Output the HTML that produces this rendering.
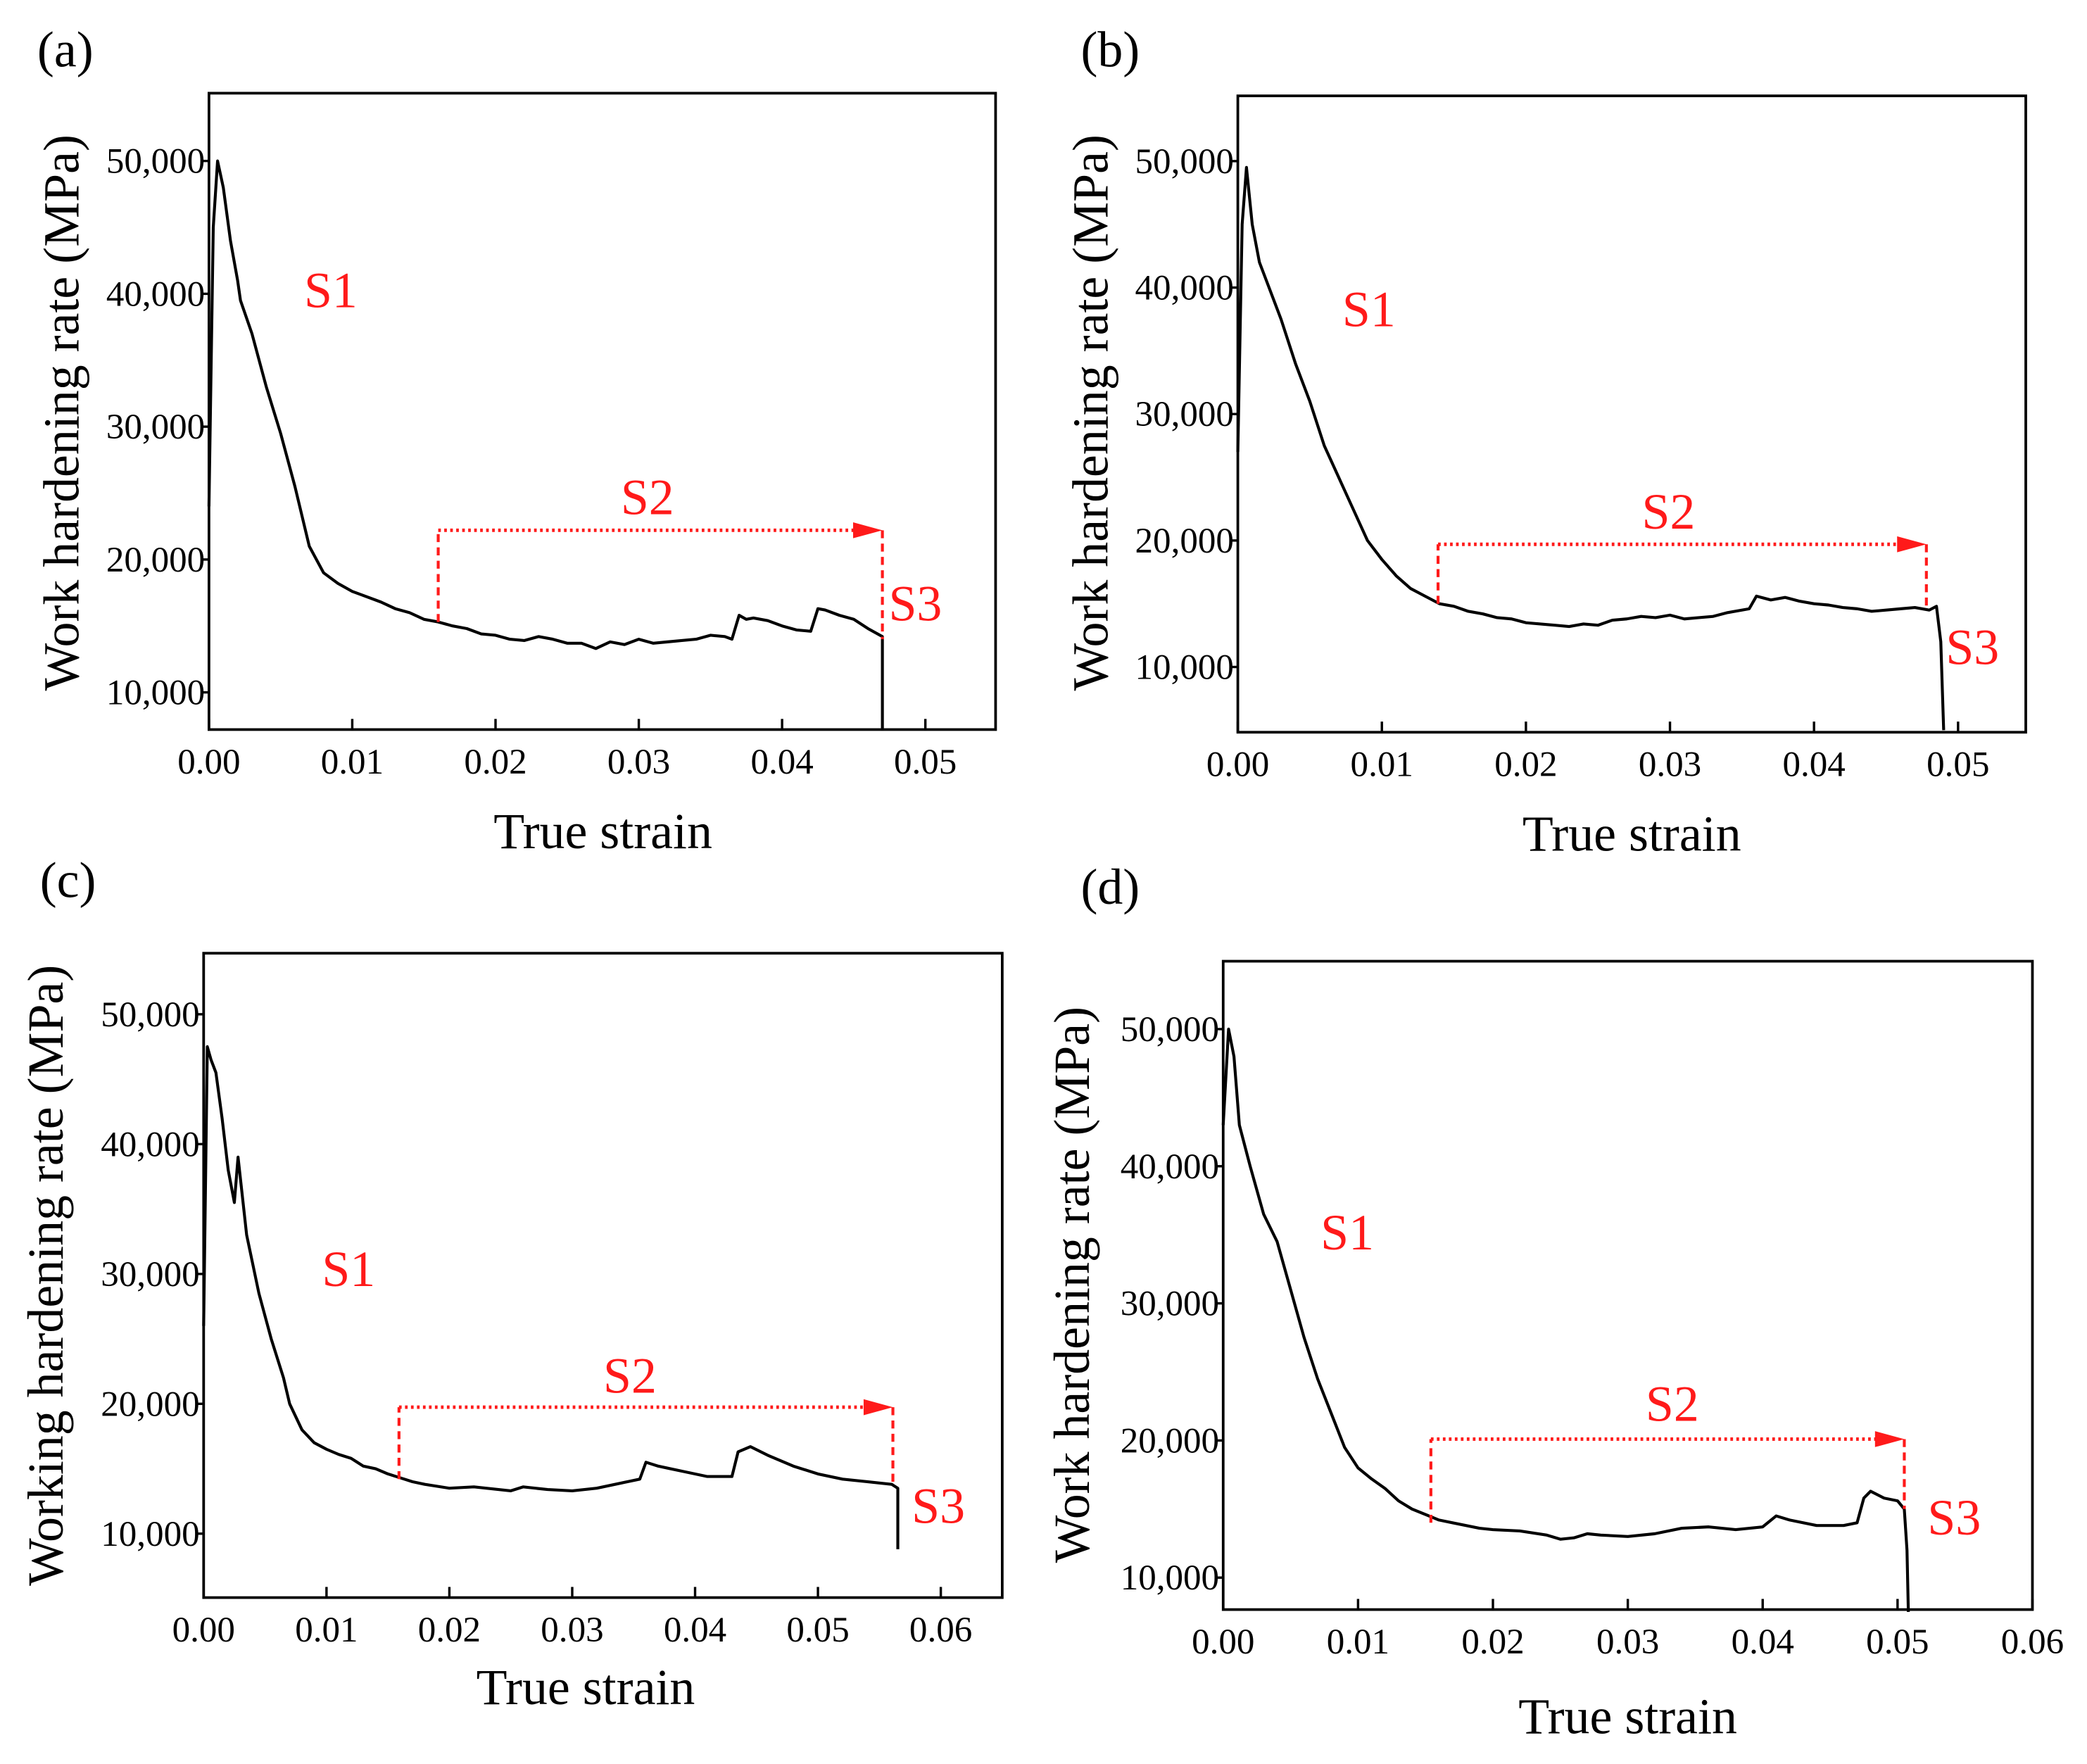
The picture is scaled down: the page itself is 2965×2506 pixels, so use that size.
<!DOCTYPE html>
<html><head><meta charset="utf-8"><style>
html,body{margin:0;padding:0;background:#fff;}
svg{display:block;}
</style></head><body>
<svg id="fig" width="2965" height="2506" viewBox="0 0 1568 1325" preserveAspectRatio="none" xmlns="http://www.w3.org/2000/svg" font-family="'Liberation Serif','Times New Roman','DejaVu Serif',serif">
</svg>
<script>
// ---- data (true strain, work hardening rate MPa) ----
const aX=[0,0.0003,0.0006,0.0010,0.0015,0.0020,0.0022,0.0030,0.0040,0.0050,0.0060,0.0070,0.0080,0.0090,0.0100,0.0110,0.0120,0.0130,0.0140,0.0150,0.0160,0.0170,0.0180,0.0190,0.0200,0.0210,0.0220,0.0230,0.0240,0.0250,0.0260,0.0270,0.0280,0.0290,0.0300,0.0310,0.0320,0.0330,0.0340,0.0350,0.0360,0.0365,0.0370,0.0375,0.0380,0.0390,0.0400,0.0410,0.0420,0.0425,0.0430,0.0440,0.0450,0.0460,0.0470,0.0470];
const aY=[24000,45000,50000,48000,44000,41000,39500,37000,33000,29500,25500,21000,19000,18200,17600,17200,16800,16300,16000,15500,15300,15000,14800,14400,14300,14000,13900,14200,14000,13700,13700,13300,13800,13600,14000,13700,13800,13900,14000,14300,14200,14000,15800,15500,15600,15400,15000,14700,14600,16300,16200,15800,15500,14800,14200,7200];
const bX=[0,0.0003,0.0006,0.0010,0.0015,0.0020,0.0030,0.0040,0.0050,0.0060,0.0070,0.0080,0.0090,0.0100,0.0110,0.0120,0.0130,0.0140,0.0150,0.0160,0.0170,0.0180,0.0190,0.0200,0.0210,0.0220,0.0230,0.0240,0.0250,0.0260,0.0270,0.0280,0.0290,0.0300,0.0310,0.0320,0.0330,0.0340,0.0355,0.0360,0.0370,0.0380,0.0390,0.0400,0.0410,0.0420,0.0430,0.0440,0.0450,0.0460,0.0470,0.0480,0.0485,0.0488,0.0490];
const bY=[27000,45000,49500,45000,42000,40500,37500,34000,31000,27500,25000,22500,20000,18500,17200,16200,15600,15000,14800,14400,14200,13900,13800,13500,13400,13300,13200,13400,13300,13700,13800,14000,13900,14100,13800,13900,14000,14300,14600,15600,15300,15500,15200,15000,14900,14700,14600,14400,14500,14600,14700,14500,14800,12000,5000];
const cX=[0,0.0003,0.0006,0.0010,0.0015,0.0020,0.0025,0.0028,0.0035,0.0045,0.0055,0.0065,0.0070,0.0080,0.0090,0.0100,0.0110,0.0120,0.0130,0.0140,0.0150,0.0160,0.0170,0.0180,0.0200,0.0220,0.0240,0.0250,0.0260,0.0280,0.0300,0.0320,0.0340,0.0355,0.0360,0.0370,0.0380,0.0390,0.0410,0.0430,0.0435,0.0445,0.0460,0.0480,0.0500,0.0520,0.0540,0.0560,0.0565,0.0565];
const cY=[26000,47500,46500,45500,42000,38000,35500,39000,33000,28500,25000,22000,20000,18000,17000,16500,16100,15800,15200,15000,14600,14300,14000,13800,13500,13600,13400,13300,13600,13400,13300,13500,13900,14200,15500,15200,15000,14800,14400,14400,16300,16700,16000,15200,14600,14200,14000,13800,13500,8800];
const dX=[0,0.0004,0.0008,0.0012,0.0020,0.0030,0.0040,0.0050,0.0060,0.0070,0.0080,0.0090,0.0100,0.0110,0.0120,0.0130,0.0140,0.0150,0.0160,0.0170,0.0180,0.0190,0.0200,0.0220,0.0240,0.0250,0.0260,0.0270,0.0280,0.0300,0.0320,0.0340,0.0360,0.0380,0.0400,0.0410,0.0420,0.0440,0.0460,0.0470,0.0475,0.0480,0.0490,0.0500,0.0505,0.0507,0.0508];
const dY=[43000,50000,48000,43000,40000,36500,34500,31000,27500,24500,22000,19500,18000,17200,16500,15600,15000,14600,14200,14000,13800,13600,13500,13400,13100,12800,12900,13200,13100,13000,13200,13600,13700,13500,13700,14500,14200,13800,13800,14000,15800,16300,15800,15600,15000,12000,7500];
const yTicks=[10000,20000,30000,40000,50000];
const yTickLabels=["10,000","20,000","30,000","40,000","50,000"];
const xTicks5=[0,0.01,0.02,0.03,0.04,0.05];
const xTickLabels5=["0.00","0.01","0.02","0.03","0.04","0.05"];
const xTicks6=[0,0.01,0.02,0.03,0.04,0.05,0.06];
const xTickLabels6=["0.00","0.01","0.02","0.03","0.04","0.05","0.06"];
// annotations: [s2 start x, s2 end x, arrow y, start-line bottom y, end-line bottom y]
const aAnn=[0.016,0.047,22200,15300,14000];
const bAnn=[0.0139,0.0478,19700,15000,14500];
const cAnn=[0.0159,0.0561,19740,14200,13600];
const dAnn=[0.0154,0.0505,20100,14000,15000];
// label positions [x,y] in data units
const aLab=[[0.0085,40300],[0.0306,24700],[0.0493,16700]];
const bLab=[[0.0091,38300],[0.0299,22300],[0.0510,11600]];
const cLab=[[0.0118,30400],[0.0347,22200],[0.0598,12150]];
const dLab=[[0.0092,35200],[0.0333,22700],[0.0542,14400]];

const panels=[
 {id:'a',L:157,R:748,T:70,B:548,x0:0,x1:0.0549,y0:7200,y1:55100,X:aX,Y:aY,ann:aAnn,lab:aLab,xt:xTicks5,xl:xTickLabels5,ytitle:'Work hardening rate (MPa)',ytx:47,yty:310,xtx:453,xty:637,pl:[28,50]},
 {id:'b',L:930,R:1522,T:72,B:550,x0:0,x1:0.0547,y0:4840,y1:55160,X:bX,Y:bY,ann:bAnn,lab:bLab,xt:xTicks5,xl:xTickLabels5,ytitle:'Work hardening rate (MPa)',ytx:820,yty:310,xtx:1226,xty:639,pl:[812,50]},
 {id:'c',L:153,R:753,T:716,B:1200,x0:0,x1:0.065,y0:5077,y1:54700,X:cX,Y:cY,ann:cAnn,lab:cLab,xt:xTicks6,xl:xTickLabels6,ytitle:'Working hardening rate (MPa)',ytx:35,yty:958,xtx:440,xty:1280,pl:[30,674]},
 {id:'d',L:919,R:1527,T:722,B:1209,x0:0,x1:0.06,y0:7670,y1:54950,X:dX,Y:dY,ann:dAnn,lab:dLab,xt:xTicks6,xl:xTickLabels6,ytitle:'Work hardening rate (MPa)',ytx:806,yty:965,xtx:1223,xty:1302,pl:[812,679]}
];
const NS='http://www.w3.org/2000/svg';
const svg=document.getElementById('fig');
function mk(tag,attrs,parent){const e=document.createElementNS(NS,tag);for(const k in attrs)e.setAttribute(k,attrs[k]);(parent||svg).appendChild(e);return e;}
panels.forEach(p=>{
 const sx=v=>p.L+(v-p.x0)/(p.x1-p.x0)*(p.R-p.L);
 const sy=v=>p.B-(v-p.y0)/(p.y1-p.y0)*(p.B-p.T);
 const g=mk('g',{});
 
 
 const pl=mk('text',{x:p.pl[0],y:p.pl[1],'font-size':38,fill:'#000'},g);pl.textContent='('+p.id+')';
 
 
 let d='';p.X.forEach((x,i)=>{d+=(i?'L':'M')+sx(x).toFixed(2)+','+sy(p.Y[i]).toFixed(2);});
 const cv=mk('path',{d:d,fill:'none',stroke:'#000','stroke-width':2.2,'stroke-linejoin':'round'},g);
 
 
 const fr=mk('rect',{x:p.L,y:p.T,width:p.R-p.L,height:p.B-p.T,fill:'none',stroke:'#000','stroke-width':2},g);
 
 
 yTicks.forEach((v,i)=>{
  const t=mk('line',{x1:p.L-6,x2:p.L,y1:sy(v),y2:sy(v),stroke:'#000','stroke-width':1.8},g);
  
  
  const tl=mk('text',{x:p.L-3,y:sy(v)+9,'font-size':27,'text-anchor':'end',fill:'#000'},g);tl.textContent=yTickLabels[i];
  
  
 });
 p.xt.forEach((v,i)=>{
  const t=mk('line',{x1:sx(v),x2:sx(v),y1:p.B,y2:p.B-8,stroke:'#000','stroke-width':1.8},g);
  
  
  const tl=mk('text',{x:sx(v),y:p.B+33,'font-size':27,'text-anchor':'middle',fill:'#000'},g);tl.textContent=p.xl[i];
  
  
 });
 const yt=mk('text',{x:0,y:0,'font-size':38,'text-anchor':'middle',fill:'#000',transform:'translate('+(p.ytx+12)+','+p.yty+') rotate(-90)'},g);yt.textContent=p.ytitle;
 
 
 const xt=mk('text',{x:p.xtx,y:p.xty,'font-size':38,'text-anchor':'middle',fill:'#000'},g);xt.textContent='True strain';
 
 
 const a=p.ann;
 const v1=mk('line',{x1:sx(a[0]),x2:sx(a[0]),y1:sy(a[3]),y2:sy(a[2]),stroke:'#ff1a1a','stroke-width':2.2,'stroke-dasharray':'6,4'},g);
 
 
 const hx2=sx(a[1])-14;
 const h=mk('line',{x1:sx(a[0]),x2:hx2,y1:sy(a[2]),y2:sy(a[2]),stroke:'#ff1a1a','stroke-width':2.6,'stroke-dasharray':'2,2.5'},g);
 
 
 const ay=sy(a[2]);
 const ah=mk('polygon',{points:(hx2-8)+','+(ay-6)+' '+sx(a[1])+','+ay+' '+(hx2-8)+','+(ay+6),fill:'#ff1a1a'},g);
 
 
 const v2=mk('line',{x1:sx(a[1]),x2:sx(a[1]),y1:sy(a[2]),y2:sy(a[4]),stroke:'#ff1a1a','stroke-width':2.2,'stroke-dasharray':'6,4'},g);
 
 
 ['S1','S2','S3'].forEach((s,i)=>{
  const t=mk('text',{x:sx(p.lab[i][0]),y:sy(p.lab[i][1])+13,'font-size':38,'text-anchor':'middle',fill:'#ff1a1a'},g);t.textContent=s;
  
  
 });
});
</script>
</body></html>
